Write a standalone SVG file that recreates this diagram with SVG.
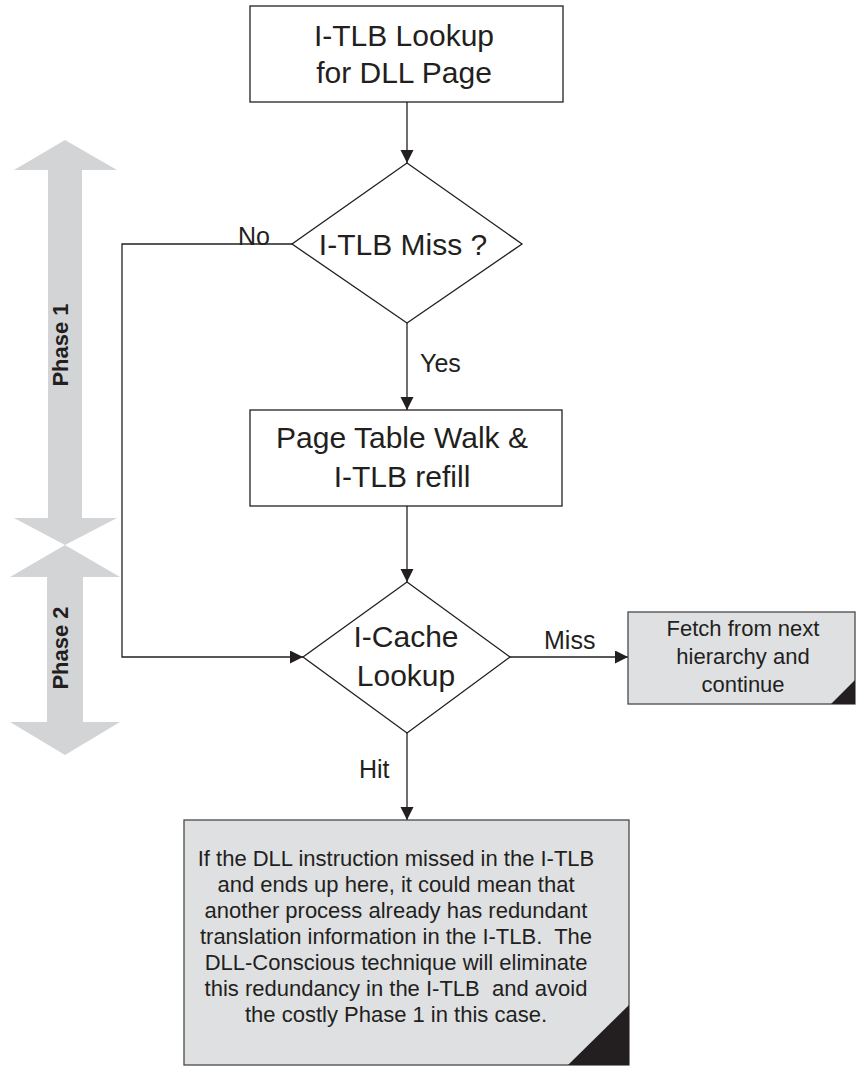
<svg xmlns="http://www.w3.org/2000/svg" width="856" height="1067" viewBox="0 0 856 1067">
<style>
.node{fill:#ffffff;stroke:#231f20;stroke-width:1.3}
.note{fill:#dfe0e2;stroke:#4a4a4a;stroke-width:1.3}
.corner{fill:#231f20}
.phase{fill:#d3d4d6}
.big{font-family:"Liberation Sans",Arial,sans-serif;font-size:30px;fill:#231f20;text-anchor:middle}
.lbl{font-family:"Liberation Sans",Arial,sans-serif;font-size:25px;fill:#231f20}
.small{font-family:"Liberation Sans",Arial,sans-serif;font-size:22px;fill:#231f20;text-anchor:middle;white-space:pre}
.ph{font-family:"Liberation Sans",Arial,sans-serif;font-size:22px;font-weight:bold;fill:#231f20;text-anchor:middle}
.conn{fill:none;stroke:#231f20;stroke-width:1.3}
</style>
<defs>
<marker id="arr" markerUnits="userSpaceOnUse" markerWidth="14" markerHeight="14" refX="13" refY="6.5" orient="auto">
<path d="M0,0 L13,6.5 L0,13 z" fill="#231f20"/>
</marker>
</defs>
<rect width="856" height="1067" fill="#ffffff"/>

<g id="phase1">
<polygon class="phase" points="65,140 117,170 82,170 82,518 117,518 65,545 14,518 48,518 48,170 14,170"/>
<text class="ph" transform="translate(68,345) rotate(-90)">Phase 1</text>
</g>
<g id="phase2">
<polygon class="phase" points="65,545 120,577 83,577 83,722 120,722 65,755 10,722 47,722 47,577 10,577"/>
<text class="ph" transform="translate(68,648) rotate(-90)">Phase 2</text>
</g>

<g id="connectors">
<path class="conn" d="M407,102 L407,163" marker-end="url(#arr)"/>
<path class="conn" d="M407,323 L407,410" marker-end="url(#arr)"/>
<path class="conn" d="M407,506 L407,582" marker-end="url(#arr)"/>
<path class="conn" d="M292,244 L122,244 L122,657 L303,657" marker-end="url(#arr)"/>
<path class="conn" d="M510,657 L628,657" marker-end="url(#arr)"/>
<path class="conn" d="M407,733 L407,820" marker-end="url(#arr)"/>
<text class="lbl" x="238" y="245">No</text>
<text class="lbl" x="420" y="372">Yes</text>
<text class="lbl" x="544" y="649">Miss</text>
<text class="lbl" x="359" y="778">Hit</text>
</g>

<g id="itlb-lookup">
<rect class="node" x="250" y="6" width="313" height="96"/>
<text class="big" x="404" y="46">I-TLB Lookup</text>
<text class="big" x="404" y="83">for DLL Page</text>
</g>

<g id="itlb-miss">
<polygon class="node" points="407,163 522,244 407,323 292,244"/>
<text class="big" x="403" y="255">I-TLB Miss ?</text>
</g>

<g id="page-walk">
<rect class="node" x="250" y="410" width="312" height="96"/>
<text class="big" x="402" y="448">Page Table Walk &amp;</text>
<text class="big" x="402" y="487">I-TLB refill</text>
</g>

<g id="icache-lookup">
<polygon class="node" points="407,582 510,657 407,733 303,657"/>
<text class="big" x="406" y="647">I-Cache</text>
<text class="big" x="406" y="686">Lookup</text>
</g>

<g id="fetch-next">
<rect class="note" x="628" y="612" width="227" height="92"/>
<polygon class="corner" points="831,704 855,680 855,704"/>
<text class="small" x="743" y="636">Fetch from next</text>
<text class="small" x="743" y="664">hierarchy and</text>
<text class="small" x="743" y="692">continue</text>
</g>

<g id="note">
<rect class="note" x="184" y="820" width="445" height="245"/>
<polygon class="corner" points="568,1065 629,1005 629,1065"/>
<text class="small" x="396" y="866">If the DLL instruction missed in the I-TLB</text>
<text class="small" x="396" y="892">and ends up here, it could mean that</text>
<text class="small" x="396" y="918">another process already has redundant</text>
<text class="small" x="396" y="944" xml:space="preserve">translation information in the I-TLB.  The</text>
<text class="small" x="396" y="970">DLL-Conscious technique will eliminate</text>
<text class="small" x="396" y="996" xml:space="preserve">this redundancy in the I-TLB  and avoid</text>
<text class="small" x="396" y="1022">the costly Phase 1 in this case.</text>
</g>
</svg>
